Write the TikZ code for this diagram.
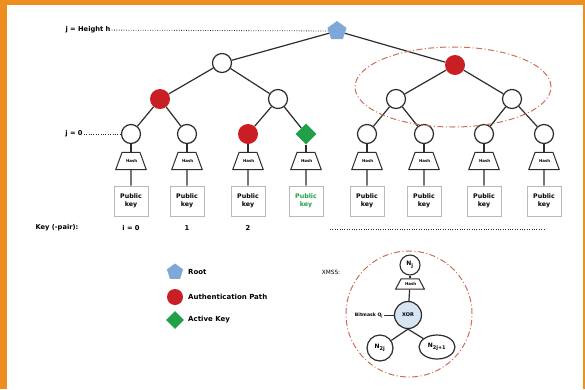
\documentclass[tikz,border=0pt]{standalone}
\usepackage{fontspec}
\setmainfont{DejaVu Sans}
\usetikzlibrary{shapes.geometric, positioning}
\definecolor{frameorange}{RGB}{236,142,32}
\definecolor{authred}{RGB}{200,30,36}
\definecolor{rootblue}{RGB}{125,168,215}
\definecolor{activegreen}{RGB}{34,160,72}
\definecolor{ringred}{RGB}{205,110,90}
\definecolor{xorblue}{RGB}{214,228,244}
\definecolor{edgegray}{RGB}{45,45,45}

\begin{document}
\begin{tikzpicture}[x=1pt, y=-1pt,
    treenode/.style={circle, draw=edgegray, line width=1.2pt, fill=white, minimum size=19pt, inner sep=0pt},
    authnode/.style={circle, fill=authred, minimum size=20pt, inner sep=0pt},
    rootnode/.style={regular polygon, regular polygon sides=5, fill=rootblue, minimum size=20pt, inner sep=0pt},
    activenode/.style={diamond, fill=activegreen, minimum size=21pt, inner sep=0pt},
    hashbox/.style={trapezium, trapezium stretches=true, trapezium left angle=70, trapezium right angle=70, draw=edgegray, line width=1pt, fill=white, text width=10pt, align=center, inner xsep=4pt, inner ysep=7pt, font=\bfseries\fontsize{4}{4.5}\selectfont},
    keybox/.style={draw=gray!55, line width=0.6pt, minimum width=34pt, minimum height=30pt, align=center, inner sep=0pt, font=\bfseries\fontsize{6.3}{8}\selectfont},
    tinytext/.style={font=\bfseries\fontsize{6.7}{7.5}\selectfont, inner sep=1pt},
    legendtext/.style={font=\bfseries\fontsize{7}{8}\selectfont, anchor=west, inner sep=0pt},
    edge/.style={draw=edgegray, line width=1.2pt},
    dotline/.style={draw=edgegray, line width=0.8pt, dash pattern=on 0.8pt off 1.6pt},
    ring/.style={draw=ringred, line width=1pt, dash pattern=on 6pt off 2.5pt on 1pt off 2.5pt}
]
    % Frame
    \fill[frameorange] (0,0) rectangle (585,389);
    \fill[white] (7,5) rectangle (583,389);

    % Tree nodes
    \node[rootnode] (root) at (337,31) {};
    \node[treenode] (n21) at (222,63) {};
    \node[authnode] (n22) at (455,65) {};
    \node[authnode] (n11) at (160,99) {};
    \node[treenode] (n12) at (278,99) {};
    \node[treenode] (n13) at (396,99) {};
    \node[treenode] (n14) at (512,99) {};
    \node[treenode] (leaf0) at (131,134) {};
    \node[treenode] (leaf1) at (187,134) {};
    \node[authnode] (leaf2) at (248,134) {};
    \node[activenode] (leaf3) at (306,134) {};
    \node[treenode] (leaf4) at (367,134) {};
    \node[treenode] (leaf5) at (424,134) {};
    \node[treenode] (leaf6) at (484,134) {};
    \node[treenode] (leaf7) at (544,134) {};

    % Tree edges
    \draw[edge] (root) -- (n21);
    \draw[edge] (root) -- (n22);
    \draw[edge] (n21) -- (n11);
    \draw[edge] (n21) -- (n12);
    \draw[edge] (n22) -- (n13);
    \draw[edge] (n22) -- (n14);
    \draw[edge] (n11) -- (leaf0);
    \draw[edge] (n11) -- (leaf1);
    \draw[edge] (n12) -- (leaf2);
    \draw[edge] (n12) -- (leaf3);
    \draw[edge] (n13) -- (leaf4);
    \draw[edge] (n13) -- (leaf5);
    \draw[edge] (n14) -- (leaf6);
    \draw[edge] (n14) -- (leaf7);

    % Hashes and public keys
    \node[hashbox] (hash0) at (131,161) {Hash};
    \node[hashbox] (hash1) at (187,161) {Hash};
    \node[hashbox] (hash2) at (248,161) {Hash};
    \node[hashbox] (hash3) at (306,161) {Hash};
    \node[hashbox] (hash4) at (367,161) {Hash};
    \node[hashbox] (hash5) at (424,161) {Hash};
    \node[hashbox] (hash6) at (484,161) {Hash};
    \node[hashbox] (hash7) at (544,161) {Hash};
    \node[keybox] (key0) at (131,201) {Public\\key};
    \node[keybox] (key1) at (187,201) {Public\\key};
    \node[keybox] (key2) at (248,201) {Public\\key};
    \node[keybox, text=activegreen] (key3) at (306,201) {Public\\key};
    \node[keybox] (key4) at (367,201) {Public\\key};
    \node[keybox] (key5) at (424,201) {Public\\key};
    \node[keybox] (key6) at (484,201) {Public\\key};
    \node[keybox] (key7) at (544,201) {Public\\key};
    \draw[edge] (leaf0) -- (hash0); \draw[edge] (hash0) -- (key0);
    \draw[edge] (leaf1) -- (hash1); \draw[edge] (hash1) -- (key1);
    \draw[edge] (leaf2) -- (hash2); \draw[edge] (hash2) -- (key2);
    \draw[edge] (leaf3) -- (hash3); \draw[edge] (hash3) -- (key3);
    \draw[edge] (leaf4) -- (hash4); \draw[edge] (hash4) -- (key4);
    \draw[edge] (leaf5) -- (hash5); \draw[edge] (hash5) -- (key5);
    \draw[edge] (leaf6) -- (hash6); \draw[edge] (hash6) -- (key6);
    \draw[edge] (leaf7) -- (hash7); \draw[edge] (hash7) -- (key7);

    % Height labels
    \node[tinytext] (toplabel) at (88,30) {j = Height h};
    \draw[dotline] (toplabel) -- (root);
    \node[tinytext] (leaflabel) at (74,134) {j = 0};
    \draw[dotline] (leaflabel) -- (leaf0);

    % Key (-pair) row
    \node[tinytext] (keyrow) at (57,228) {Key (-pair):};
    \node[tinytext] (idx0) at (131,228) {i = 0};
    \node[tinytext] (idx1) at (187,228) {1};
    \node[tinytext] (idx2) at (248,228) {2};
    \coordinate (dotsL) at (330,229);
    \coordinate (dotsR) at (546,229);
    \draw[dotline] (dotsL) -- (dotsR);

    % Authentication ring
    \node[ring, ellipse, minimum width=196pt, minimum height=80pt] (authring) at (453,87) {};

    % Legend
    \node[rootnode, minimum size=17pt] (legroot) at (175,272) {};
    \node[legendtext] at (188,272) {Root};
    \node[authnode, minimum size=16pt] (legauth) at (175,297) {};
    \node[legendtext] at (188,297) {Authentication Path};
    \node[activenode, minimum size=18pt] (legactive) at (175,320) {};
    \node[legendtext] at (188,320) {Active Key};

    % XMSS
    \node[tinytext, font=\fontsize{5.8}{7}\selectfont] (xmsslabel) at (331,272) {XMSS:};
    \node[ring, circle, minimum size=126pt] (xmssring) at (409,314) {};
    \node[circle, draw=edgegray, line width=1.1pt, minimum size=20pt, inner sep=0pt, font=\bfseries\fontsize{6}{6}\selectfont] (nj) at (410,265) {N\textsubscript{j}};
    \node[hashbox, trapezium left angle=62, trapezium right angle=62, inner ysep=3.5pt] (xhash) at (410,284) {Hash};
    \node[circle, draw=edgegray, line width=1.2pt, fill=xorblue, minimum size=27pt, inner sep=0pt, font=\bfseries\fontsize{5}{5}\selectfont] (xor) at (408,315) {XOR};
    \node[tinytext, font=\bfseries\fontsize{4.6}{5}\selectfont] (bitmask) at (369,316) {Bitmask Q\textsubscript{j}};
    \node[circle, draw=edgegray, line width=1.2pt, minimum size=26pt, inner sep=0pt, font=\bfseries\fontsize{6}{6}\selectfont] (nleft) at (380,348) {N\textsubscript{2j}};
    \node[ellipse, draw=edgegray, line width=1.2pt, minimum width=36pt, minimum height=24pt, inner sep=0pt, font=\bfseries\fontsize{6}{6}\selectfont] (nright) at (437,347) {N\textsubscript{2j+1}};
    \draw[edge] (nj) -- (xhash);
    \draw[edge] (xhash) -- (xor);
    \draw[edge, line width=0.8pt] (bitmask) -- (xor);
    \draw[edge] (xor.south) -- (nleft);
    \draw[edge] (xor.south) -- (nright);
\end{tikzpicture}
\end{document}
